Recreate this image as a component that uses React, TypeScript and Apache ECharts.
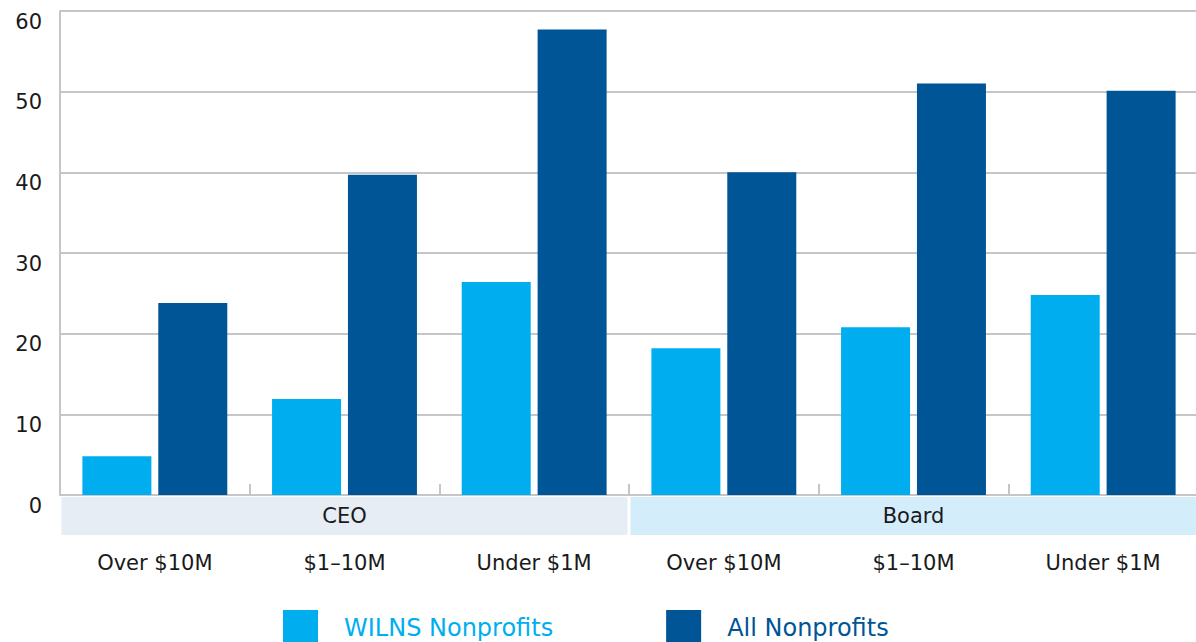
import React, { useEffect, useRef } from "react";
import * as echarts from "echarts";

const categories = ["Over $10M", "$1–10M", "Under $1M", "Over $10M", "$1–10M", "Under $1M"];
const groups = ["CEO", "Board"];
const wilnsValues = [4.8, 11.9, 26.4, 18.2, 20.8, 24.8];
const allValues = [23.8, 39.7, 57.7, 40.0, 51.0, 50.1];
const seriesNames = ["WILNS Nonprofits", "All Nonprofits"];

const FONT = "DejaVu Sans";
const C_WILNS = "#00aeef";
const C_ALL = "#005596";
const GRID = "#c6c6c9";

export default function App() {
  const ref = useRef<HTMLDivElement>(null);
  useEffect(() => {
    if (!ref.current) return;
    const chart = echarts.init(ref.current, undefined, { renderer: "svg" });
    chart.setOption({
      animation: false,
      textStyle: { fontFamily: FONT },
      grid: { left: 60, right: 2, top: 11, bottom: 147, containLabel: false },
      legend: {
        left: 283,
        top: 610,
        padding: 0,
        itemWidth: 35,
        itemHeight: 35,
        itemGap: 113,
        icon: "rect",
        textStyle: { fontSize: 24, fontFamily: FONT, padding: [0, 0, 0, 21] },
        data: [
          { name: seriesNames[0], textStyle: { color: C_WILNS } },
          { name: seriesNames[1], textStyle: { color: C_ALL } },
        ],
      },
      xAxis: [
        {
          type: "category",
          position: "bottom",
          data: categories,
          axisLine: { show: true, lineStyle: { color: GRID, width: 2 } },
          axisTick: { show: true, inside: true, length: 11, lineStyle: { color: GRID, width: 2 } },
          axisLabel: { interval: 0, margin: 57, fontSize: 21, color: "#1a1a1a", fontFamily: FONT },
        },
        {
          type: "category",
          position: "bottom",
          data: groups,
          axisLine: { show: false },
          axisTick: { show: false },
          splitLine: { show: false },
          axisLabel: {
            interval: 0,
            margin: 2,
            formatter: (v: string) => (v === "CEO" ? "{a|" + v + "}" : "{b|" + v + "}"),
            rich: {
              a: {
                backgroundColor: "#e6edf5",
                width: 566,
                height: 38,
                lineHeight: 38,
                align: "center",
                fontSize: 21,
                color: "#1a1a1a",
                fontFamily: FONT,
              },
              b: {
                backgroundColor: "#d3eefa",
                width: 566,
                height: 38,
                lineHeight: 38,
                align: "center",
                fontSize: 21,
                color: "#1a1a1a",
                fontFamily: FONT,
              },
            },
          },
        },
      ],
      yAxis: {
        type: "value",
        min: 0,
        max: 60,
        interval: 10,
        axisLine: { show: true, lineStyle: { color: GRID, width: 2 } },
        axisTick: { show: false },
        splitLine: { show: true, lineStyle: { color: GRID, width: 2 } },
        axisLabel: {
          fontSize: 21,
          color: "#1a1a1a",
          margin: 18,
          fontFamily: FONT,
          verticalAlign: "top",
        },
      },
      series: [
        {
          name: seriesNames[0],
          type: "bar",
          data: wilnsValues,
          barWidth: 69,
          barGap: "10%",
          itemStyle: { color: C_WILNS },
        },
        {
          name: seriesNames[1],
          type: "bar",
          data: allValues,
          barWidth: 69,
          barGap: "10%",
          itemStyle: { color: C_ALL },
        },
      ],
    });
    return () => chart.dispose();
  }, []);
  return (
    <div
      style={{ position: "absolute", left: 0, top: 0, width: 1196, height: 642, overflow: "hidden" }}
    >
      <div ref={ref} style={{ width: 1200, height: 642 }} />
    </div>
  );
}
